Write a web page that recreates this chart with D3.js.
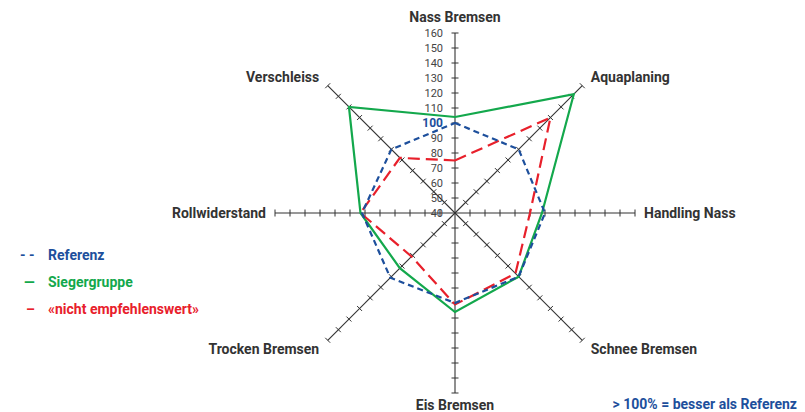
<!DOCTYPE html>
<html>
<head>
<meta charset="utf-8">
<script src="https://cdn.jsdelivr.net/npm/d3@7"></script>
<style>
  html, body { margin: 0; padding: 0; background: #fff; }
  svg { display: block; font-family: Roboto, "Liberation Sans", sans-serif; }
</style>
</head>
<body>
<div id="chart"></div>
<script>
// axes, clockwise from the top
const axes = ['Nass Bremsen', 'Aquaplaning', 'Handling Nass', 'Schnee Bremsen',
              'Eis Bremsen', 'Trocken Bremsen', 'Rollwiderstand', 'Verschleiss'];
const tickValues = [40, 50, 60, 70, 80, 90, 100, 110, 120, 130, 140, 150, 160];

const seriesNames = ['Referenz', 'Siegergruppe', '«nicht empfehlenswert»'];
const referenz = [100, 100, 100, 100, 100, 101, 102, 100];
const siegergruppe = [104, 152, 98, 100, 106, 92, 103, 140];
const nichtEmpfehlenswert = [75, 130, 90, 97, 101, 81, 103, 92];

const legendSymbols = ['- -', '—', '–'];
const noteText = '> 100% = besser als Referenz';

const width = 805, height = 412;
const cx = 455, cy = 213;
const blue = '#1d4f9c', green = '#13a84c', red = '#e8202b', axisColor = '#333';

const svg = d3.select('#chart').append('svg')
  .attr('width', width).attr('height', height)
  .attr('viewBox', `0 0 ${width} ${height}`);

const r = d3.scaleLinear().domain([40, 160]).range([0, 180]);
const angle = d3.scaleLinear().domain([0, axes.length]).range([0, 2 * Math.PI]);

function pt(i, v) {
  const a = angle(i);
  return [cx + r(v) * Math.sin(a), cy - r(v) * Math.cos(a)];
}

// axes with ticks
const g = svg.append('g');
axes.forEach((name, i) => {
  const a = angle(i);
  const end = pt(i, 160);
  g.append('line')
    .attr('x1', cx).attr('y1', cy).attr('x2', end[0]).attr('y2', end[1])
    .attr('stroke', axisColor).attr('stroke-width', 1.1);
  // perpendicular ticks
  const px = Math.cos(a), py = Math.sin(a);
  tickValues.filter(v => v > 40).forEach(v => {
    const p = pt(i, v);
    g.append('line')
      .attr('x1', p[0] - px * 3.5).attr('y1', p[1] - py * 3.5)
      .attr('x2', p[0] + px * 3.5).attr('y2', p[1] + py * 3.5)
      .attr('stroke', axisColor).attr('stroke-width', 1);
  });

  // axis label
  const s = Math.sin(a), c = Math.cos(a);
  const lr = Math.abs(s) > 0.9 ? 189 : (c > 0.9 ? 196 : 192);
  const lx = cx + lr * s, ly = cy - lr * c;
  g.append('text')
    .attr('x', lx).attr('y', ly)
    .attr('dy', '0.35em')
    .attr('text-anchor', s > 0.1 ? 'start' : (s < -0.1 ? 'end' : 'middle'))
    .attr('font-size', 14).attr('font-weight', 'bold')
    .attr('fill', '#333')
    .text(name);
});

// tick labels on the upper vertical axis
svg.append('g').selectAll('text')
  .data(tickValues)
  .enter().append('text')
  .attr('x', cx - 12)
  .attr('y', d => cy - r(d))
  .attr('dy', '0.35em')
  .attr('text-anchor', 'end')
  .attr('font-size', d => d === 100 ? 12 : 11)
  .attr('font-weight', d => d === 100 ? 'bold' : 'normal')
  .attr('fill', d => d === 100 ? blue : '#444')
  .text(d => d);

// series
const line = d3.line().curve(d3.curveLinearClosed);
const series = [
  { values: siegergruppe, color: green, dash: null },
  { values: nichtEmpfehlenswert, color: red, dash: '12,6' },
  { values: referenz, color: blue, dash: '6,4' }
];
svg.append('g').selectAll('path')
  .data(series)
  .enter().append('path')
  .attr('d', d => line(d.values.map((v, i) => pt(i, v))))
  .attr('fill', 'none')
  .attr('stroke', d => d.color)
  .attr('stroke-width', 2.2)
  .attr('stroke-dasharray', d => d.dash);

// legend
const legendColors = [blue, green, red];
const symbolX = [20, 24, 26];
const legend = svg.append('g');
seriesNames.forEach((name, i) => {
  const y = 255 + i * 27;
  legend.append('text')
    .attr('x', symbolX[i]).attr('y', y).attr('dy', '0.35em')
    .attr('font-size', 14).attr('font-weight', 'bold')
    .attr('fill', legendColors[i])
    .text(legendSymbols[i]);
  legend.append('text')
    .attr('x', 48).attr('y', y).attr('dy', '0.35em')
    .attr('font-size', 14).attr('font-weight', 'bold')
    .attr('fill', legendColors[i])
    .text(name);
});

// note
svg.append('text')
  .attr('x', 797).attr('y', 404).attr('dy', '0.35em')
  .attr('text-anchor', 'end')
  .attr('font-size', 14).attr('font-weight', 'bold')
  .attr('fill', blue)
  .text(noteText);
</script>
</body>
</html>
